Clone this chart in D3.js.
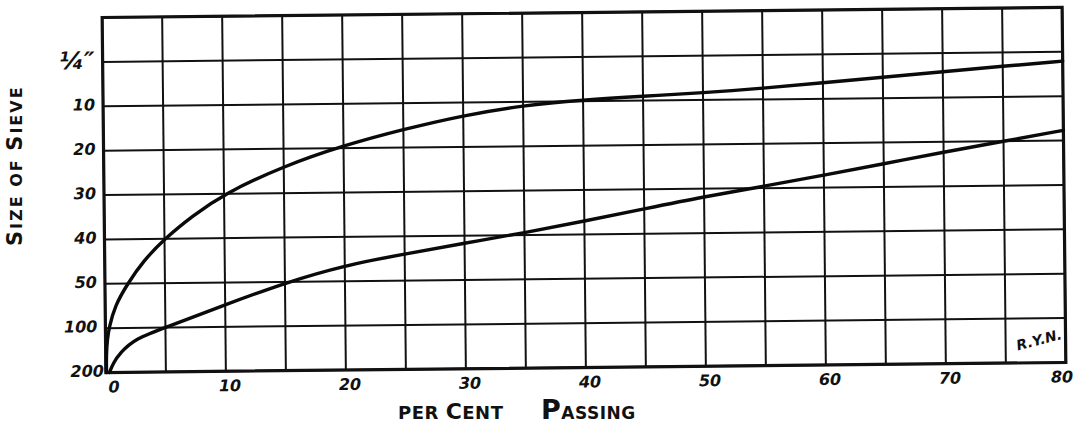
<!DOCTYPE html>
<html>
<head>
<meta charset="utf-8">
<script src="https://cdn.jsdelivr.net/npm/d3@7"></script>
<style>
  html, body { margin: 0; padding: 0; background: #fff; }
  svg { display: block; }
  text { font-family: "DejaVu Sans", sans-serif; fill: #111; }
</style>
</head>
<body>
<svg id="chart" width="1074" height="426"></svg>
<script>
// ---- data ----
// x: per cent passing; y: sieve row position (0 = top edge, 1 = 1/4", 2 = 10, ... 8 = 200)
const percentTicks = [0, 10, 20, 30, 40, 50, 60, 70, 80];
const percentGrid = [0, 5, 10, 15, 20, 25, 30, 35, 40, 45, 50, 55, 60, 65, 70, 75, 80];
const sieveLabels = ["", "\u00BC\u2033", "10", "20", "30", "40", "50", "100", "200"];
const upperCurve = [
  [0.05, 8], [0.05, 7.6], [0.15, 7.25], [0.3, 7], [0.8, 6.5], [1.9, 6], [3.2, 5.5], [5, 5],
  [7.3, 4.5], [10, 4], [15, 3.39], [20, 2.94], [25, 2.59], [30, 2.29],
  [35, 2.08], [40, 1.97], [45, 1.9], [50, 1.84], [55, 1.75], [60, 1.64],
  [65, 1.53], [70, 1.42], [75, 1.31], [80, 1.21]
];
const lowerCurve = [
  [0.3, 8], [0.6, 7.8], [1.2, 7.56], [2.5, 7.24], [5, 7.0], [10, 6.5], [15, 6.02],
  [20, 5.64], [25, 5.4], [30, 5.17], [35, 4.95], [40, 4.7], [45, 4.44],
  [50, 4.18], [55, 3.96], [60, 3.72], [65, 3.48], [70, 3.23], [75, 3.0], [80, 2.77]
];

// ---- layout ----
const svg = d3.select("#chart");
const plotLeft = 104, plotTop = 12.5, plotW = 960, plotH = 355;
const cx = plotLeft + plotW / 2, cy = plotTop + plotH / 2;

const x = d3.scaleLinear().domain([0, 80]).range([plotLeft, plotLeft + plotW]);
const y = d3.scaleLinear().domain([0, 8]).range([plotTop, plotTop + plotH]);

const g = svg.append("g").attr("transform", `rotate(-0.6, ${cx}, ${cy})`);

// grid: vertical lines
g.append("g").selectAll("line").data(percentGrid).join("line")
  .attr("x1", d => x(d)).attr("x2", d => x(d))
  .attr("y1", y(0)).attr("y2", y(8))
  .attr("stroke", "#111").attr("stroke-width", 2);

// grid: horizontal lines
g.append("g").selectAll("line").data(d3.range(sieveLabels.length)).join("line")
  .attr("x1", x(0)).attr("x2", x(80))
  .attr("y1", d => y(d)).attr("y2", d => y(d))
  .attr("stroke", "#111").attr("stroke-width", 2);

// border
g.append("rect")
  .attr("x", x(0)).attr("y", y(0))
  .attr("width", x(80) - x(0)).attr("height", y(8) - y(0))
  .attr("fill", "none").attr("stroke", "#111").attr("stroke-width", 3.2);

// curves
const line = d3.line().x(d => x(d[0])).y(d => y(d[1])).curve(d3.curveBasis);
[upperCurve, lowerCurve].forEach(c => {
  g.append("path").attr("d", line(c))
    .attr("fill", "none").attr("stroke", "#0a0a0a")
    .attr("stroke-width", 3.4).attr("stroke-linecap", "round");
});

// y tick labels
g.append("g").selectAll("text").data(sieveLabels.map((s, i) => ({ s, i })).filter(d => d.s !== ""))
  .join("text")
  .attr("x", d => x(0) - (d.i === 8 ? 2 : 8))
  .attr("y", d => y(d.i) + (d.i === 1 ? 7 : 4))
  .attr("text-anchor", "end")
  .attr("font-size", d => d.i === 1 ? 24 : 16)
  .attr("font-style", "italic")
  .attr("font-weight", "bold")
  .text(d => d.s);

// x tick labels
g.append("g").selectAll("text").data(percentTicks).join("text")
  .attr("x", d => x(d) + (d === 0 ? 8 : d === 80 ? -4 : 4))
  .attr("y", y(8) + 20)
  .attr("text-anchor", "middle")
  .attr("font-size", 16)
  .attr("font-style", "italic")
  .attr("font-weight", "bold")
  .text(d => d);

// signature
g.append("text")
  .attr("transform", `translate(${x(76)}, ${y(7.72)}) rotate(-14)`)
  .attr("font-size", 14).attr("font-weight", "bold").attr("font-style", "italic")
  .text("R.Y.N.");

// x axis title
const xt1 = svg.append("text").attr("x", 398).attr("y", 419).attr("font-weight", "bold").attr("letter-spacing", 0.5);
xt1.append("tspan").attr("font-size", 18).text("PER ");
xt1.append("tspan").attr("font-size", 22).text("C");
xt1.append("tspan").attr("font-size", 18).text("ENT");
const xt2 = svg.append("text").attr("x", 541).attr("y", 419).attr("font-weight", "bold").attr("letter-spacing", 0.5);
xt2.append("tspan").attr("font-size", 27).text("P");
xt2.append("tspan").attr("font-size", 17).text("ASSING");

// y axis title
const yt = svg.append("text")
  .attr("transform", "translate(22, 246) rotate(-90)")
  .attr("font-weight", "bold").attr("letter-spacing", 2);
yt.append("tspan").attr("font-size", 21).text("S");
yt.append("tspan").attr("font-size", 16).text("IZE OF ");
yt.append("tspan").attr("font-size", 21).text("S");
yt.append("tspan").attr("font-size", 16).text("IEVE");
</script>
</body>
</html>
